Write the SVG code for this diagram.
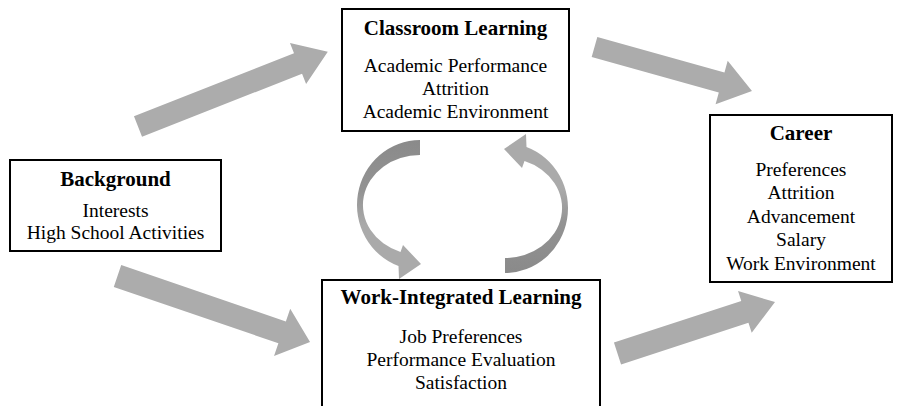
<svg xmlns="http://www.w3.org/2000/svg" xmlns:xlink="http://www.w3.org/1999/xlink" width="899" height="406" viewBox="0 0 899 406">
  <style>
    .box { fill: #ffffff; stroke: #000000; stroke-width: 2; }
    .title { font-family: "Liberation Serif", "Times New Roman", serif; font-weight: bold; font-size: 21px; text-anchor: middle; fill: #000; }
    .item { font-family: "Liberation Serif", "Times New Roman", serif; font-size: 19.5px; text-anchor: middle; fill: #000; }
    .flow { fill: #acacac; }
  </style>
  <defs>
    <linearGradient id="loopShade" gradientUnits="userSpaceOnUse" x1="0" y1="140" x2="0" y2="225">
      <stop offset="0" stop-color="#8a8a8a"/>
      <stop offset="0.6" stop-color="#939393"/>
      <stop offset="1" stop-color="#aaaaaa"/>
    </linearGradient>
    <!-- circular arrow: tail at the top, sweeping left and down into a head -->
    <g id="loop">
      <path fill="url(#loopShade)" d="M420,140 A63,65 0 0 0 398.5,266.1 L399,279 L421,264 L403,245 L400.5,252 A57,50 0 0 1 420,155 Z"/>
    </g>
  </defs>

  <g id="connectors">
    <!-- Background -> Classroom Learning -->
    <polygon class="flow" transform="translate(138,126.5) rotate(-21.5)" points="0,-11 172,-11 172,-22 204,0 172,22 172,11 0,11"/>
    <!-- Classroom Learning -> Career -->
    <polygon class="flow" transform="translate(594.5,47) rotate(15.6)" points="0,-10.5 132,-10.5 132,-22.5 163.5,0 132,22.5 132,10.5 0,10.5"/>
    <!-- Background -> Work-Integrated Learning -->
    <polygon class="flow" transform="translate(117.5,276) rotate(18.9)" points="0,-11.5 174,-11.5 174,-25 203.5,0 174,25 174,11.5 0,11.5"/>
    <!-- Work-Integrated Learning -> Career -->
    <polygon class="flow" transform="translate(617.5,353.5) rotate(-18.1)" points="0,-11.5 134,-11.5 134,-22 165.7,0 134,22 134,11.5 0,11.5"/>
    <!-- cycle between Classroom Learning and Work-Integrated Learning -->
    <use xlink:href="#loop"/>
    <use xlink:href="#loop" transform="rotate(180 462.5 206.5)"/>
  </g>

  <g id="classroom">
    <rect class="box" x="342" y="9" width="227" height="122"/>
    <text class="title" x="455.5" y="35">Classroom Learning</text>
    <text class="item" x="455.5" y="72">Academic Performance</text>
    <text class="item" x="455.5" y="95">Attrition</text>
    <text class="item" x="455.5" y="118">Academic Environment</text>
  </g>

  <g id="background">
    <rect class="box" x="10" y="160" width="211" height="91"/>
    <text class="title" x="115.5" y="186">Background</text>
    <text class="item" x="115.5" y="217">Interests</text>
    <text class="item" x="115.5" y="239">High School Activities</text>
  </g>

  <g id="career">
    <rect class="box" x="710" y="115" width="182" height="167"/>
    <text class="title" x="801" y="140">Career</text>
    <text class="item" x="801" y="176">Preferences</text>
    <text class="item" x="801" y="199">Attrition</text>
    <text class="item" x="801" y="223">Advancement</text>
    <text class="item" x="801" y="246">Salary</text>
    <text class="item" x="801" y="270">Work Environment</text>
  </g>

  <g id="wil">
    <rect class="box" x="322" y="280" width="278" height="140"/>
    <text class="title" x="461" y="304">Work-Integrated Learning</text>
    <text class="item" x="461" y="343">Job Preferences</text>
    <text class="item" x="461" y="366">Performance Evaluation</text>
    <text class="item" x="461" y="389">Satisfaction</text>
  </g>
</svg>
